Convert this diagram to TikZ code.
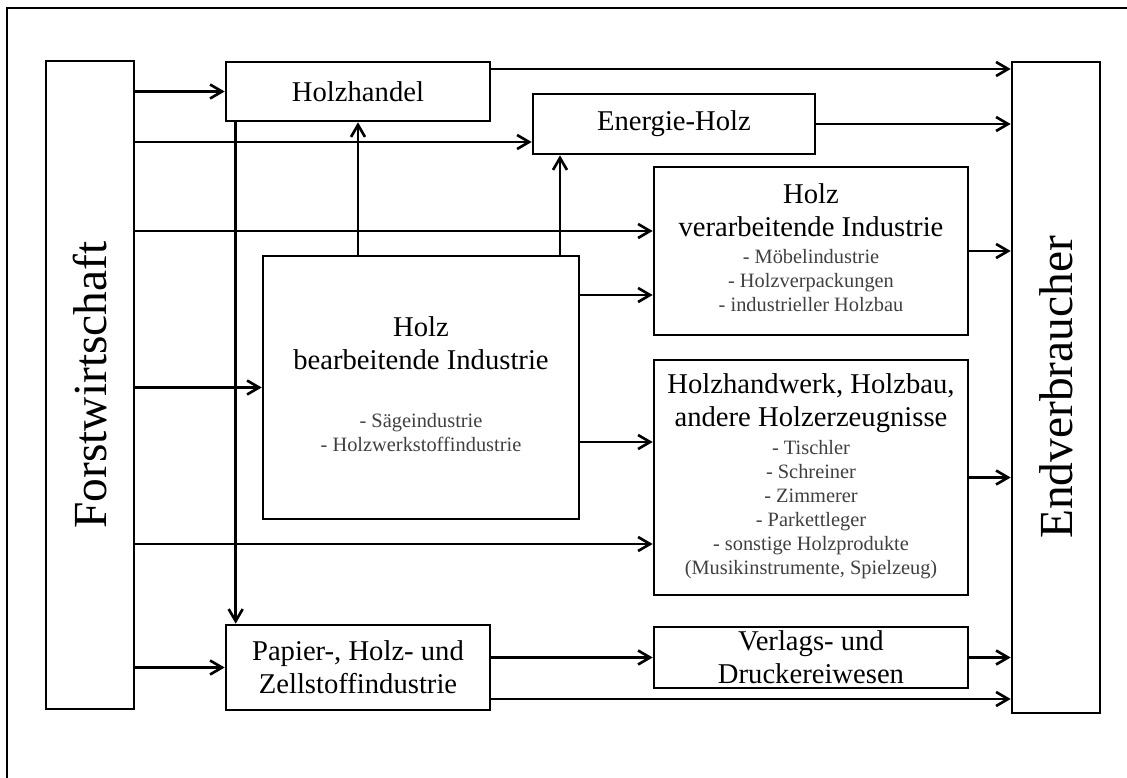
\documentclass[tikz,border=0pt]{standalone}
\usepackage{fontspec}
\setmainfont{Liberation Serif}
\usepackage{graphicx}
\usetikzlibrary{arrows.meta}
\newcommand\headsize{\fontsize{16.3}{19}\selectfont}
\newcommand\itemsize{\fontsize{11.6}{13.6}\selectfont\color{black!75}}
\newcommand\itemlist[1]{{\itemsize\begin{tabular}[t]{@{}c@{}}#1\end{tabular}}}

\begin{document}
\begin{tikzpicture}[>={Straight Barb[length=2.4mm,width=2.8mm]}, line width=1.5pt,
  blk/.style={draw, align=center, inner sep=0pt, font=\headsize},
  side/.style={draw, inner sep=0pt, font=\fontsize{27}{30}\selectfont}]
\useasboundingbox (0,0) rectangle (22.54,-15.56);
\draw (0.14,-15.56) |- (22.54,-0.16);

\node[side, minimum width=1.76cm, minimum height=12.96cm] (forst) at (1.80,-7.70) {\rotatebox{90}{Forstwirtschaft}};
\node[side, minimum width=1.76cm, minimum height=13.02cm] (endv) at (21.12,-7.75) {\rotatebox{90}{Endverbraucher}};

\node[blk, minimum width=5.28cm, minimum height=1.18cm] (handel) at (7.16,-1.83) {Holzhandel};
\node[blk, minimum width=5.64cm, minimum height=1.20cm] (energie) at (13.48,-2.48) {Energie-Holz};
\node[blk, minimum width=6.28cm, minimum height=3.36cm] (verarb) at (16.22,-5.02) {Holz\\verarbeitende Industrie\\[-3.4pt]\itemlist{- Möbelindustrie\\- Holzverpackungen\\- industrieller Holzbau}};
\node[blk, minimum width=6.32cm, minimum height=5.26cm] (bearb) at (8.42,-7.75) {Holz\\bearbeitende Industrie\\[13.6pt]\itemlist{- Sägeindustrie\\- Holzwerkstoffindustrie}};
\node[blk, minimum width=6.28cm, minimum height=4.70cm] (handwerk) at (16.22,-9.55) {Holzhandwerk, Holzbau,\\andere Holzerzeugnisse\\[-3pt]\itemlist{- Tischler\\- Schreiner\\- Zimmerer\\- Parkettleger\\- sonstige Holzprodukte\\(Musikinstrumente, Spielzeug)}};
\node[blk, minimum width=5.28cm, minimum height=1.70cm] (papier) at (7.16,-13.35) {Papier-, Holz- und\\Zellstoffindustrie};
\node[blk, minimum width=6.28cm, minimum height=1.22cm] (verlag) at (16.22,-13.15) {Verlags- und\\Druckereiwesen};

\coordinate (e1) at ([yshift=-0.36cm]energie.west);
\coordinate (e2) at ([xshift=-2.28cm]energie.south);
\coordinate (h1) at ([yshift=0.45cm]handel.east);
\coordinate (h2) at ([xshift=0.22cm]handel.south west);
\coordinate (v1) at ([yshift=0.40cm]verarb.west);
\coordinate (v2) at ([yshift=-0.88cm]verarb.west);
\coordinate (w1) at ([yshift=0.71cm]handwerk.west);
\coordinate (w2) at ([yshift=-1.33cm]handwerk.west);
\coordinate (p1) at ([yshift=-0.63cm]papier.east);

% from Forstwirtschaft
\draw[->] (forst.east |- handel.west) -- (handel.west);
\draw[->] (forst.east |- e1) -- (e1);
\draw[->] (forst.east |- v1) -- (v1);
\draw[->] (forst.east |- bearb.west) -- (bearb.west);
\draw[->] (forst.east |- w2) -- (w2);
\draw[->] (forst.east |- papier.west) -- (papier.west);

% between the industries
\draw[->] (h2) -- (h2 |- papier.north);
\draw[->] (bearb.north -| handel.south) -- (handel.south);
\draw[->] (e2 |- bearb.north) -- (e2);
\draw[->] (bearb.east |- v2) -- (v2);
\draw[->] (bearb.east |- w1) -- (w1);
\draw[->] (papier.east |- verlag.west) -- (verlag.west);

% to Endverbraucher
\draw[->] (h1) -- (h1 -| endv.west);
\draw[->] (energie.east) -- (energie.east -| endv.west);
\draw[->] (verarb.east) -- (verarb.east -| endv.west);
\draw[->] (handwerk.east) -- (handwerk.east -| endv.west);
\draw[->] (verlag.east) -- (verlag.east -| endv.west);
\draw[->] (p1) -- (p1 -| endv.west);
\end{tikzpicture}
\end{document}
